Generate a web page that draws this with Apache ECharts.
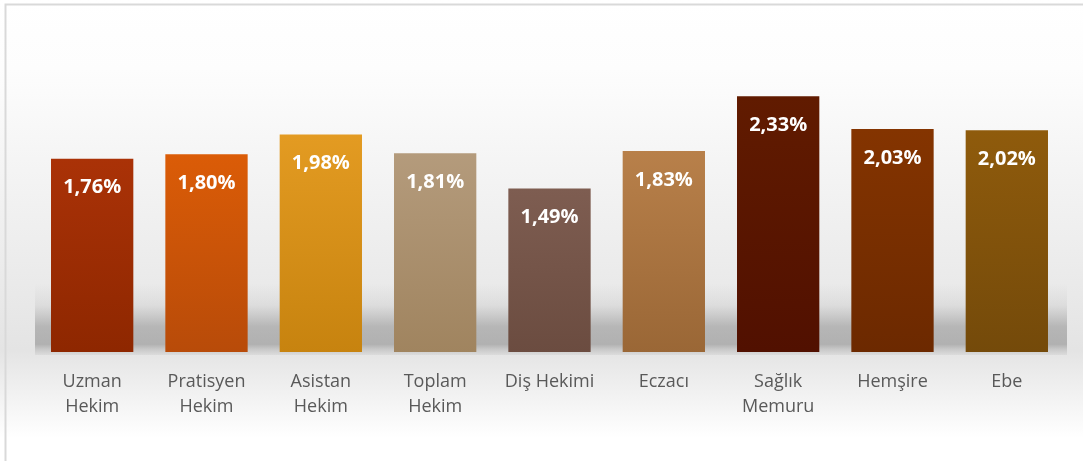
<!DOCTYPE html>
<html>
<head>
<meta charset="utf-8">
<script src="https://cdn.jsdelivr.net/npm/echarts@6/dist/echarts.min.js"></script>
<style>
  html, body { margin: 0; padding: 0; background: #fff; }
  #chart { width: 1083px; height: 461px; }
</style>
</head>
<body>
<div id="chart"></div>
<script>
var categories = ['Uzman\nHekim', 'Pratisyen\nHekim', 'Asistan\nHekim', 'Toplam\nHekim', 'Diş Hekimi', 'Eczacı', 'Sağlık\nMemuru', 'Hemşire', 'Ebe'];
var values = [1.76, 1.80, 1.98, 1.81, 1.49, 1.83, 2.33, 2.03, 2.02];
var valueLabels = ['1,76%', '1,80%', '1,98%', '1,81%', '1,49%', '1,83%', '2,33%', '2,03%', '2,02%'];
var topColors = ['#aa3207', '#db5c07', '#e39b22', '#b49b7c', '#7e5d51', '#b8804a', '#611b00', '#843400', '#8f5b0c'];
var bottomColors = ['#8e2700', '#b84b09', '#c7830f', '#a0845f', '#6b4c40', '#9a6736', '#511000', '#6c2900', '#744a0a'];

var myChart = echarts.init(document.getElementById('chart'));

function grad(c1, c2) {
  return new echarts.graphic.LinearGradient(0, 0, 0, 1, [
    { offset: 0, color: c1 },
    { offset: 1, color: c2 }
  ]);
}

var option = {
  animation: false,
  backgroundColor: new echarts.graphic.LinearGradient(0, 0, 0, 1, [
    { offset: 0, color: '#ffffff' },
    { offset: 0.15, color: '#fdfdfd' },
    { offset: 0.76, color: '#e4e4e4' },
    { offset: 0.95, color: '#ffffff' },
    { offset: 1, color: '#ffffff' }
  ]),
  graphic: [
    {
      // soft floor shadow behind the bars
      type: 'rect',
      z: -1,
      shape: { x: 35, y: 284, width: 1032, height: 71 },
      style: {
        fill: new echarts.graphic.LinearGradient(0, 0, 0, 1, [
          { offset: 0, color: 'rgba(160,160,160,0)' },
          { offset: 0.3, color: 'rgba(155,155,155,0.15)' },
          { offset: 0.6, color: 'rgba(150,150,150,0.6)' },
          { offset: 0.85, color: 'rgba(155,155,155,0.7)' },
          { offset: 1, color: 'rgba(200,200,200,0.35)' }
        ])
      }
    },
    {
      type: 'rect',
      shape: { x: 5.5, y: 4.5, width: 1100, height: 500 },
      style: { fill: 'none', stroke: '#d9d9d9', lineWidth: 2 }
    }
  ],
  grid: {
    left: 35,
    right: 19,
    top: 22.6,
    bottom: 109
  },
  xAxis: {
    type: 'category',
    data: categories,
    axisLine: { show: false },
    axisTick: { show: false },
    axisLabel: {
      color: '#595959',
      fontFamily: 'Open Sans',
      fontSize: 18,
      lineHeight: 25,
      margin: 17,
      interval: 0
    }
  },
  yAxis: {
    type: 'value',
    min: 0,
    max: 3,
    show: false,
    splitLine: { show: false }
  },
  series: [{
    type: 'bar',
    barCategoryGap: '28%',
    data: values.map(function (v, i) {
      return {
        value: v,
        itemStyle: { color: grad(topColors[i], bottomColors[i]) }
      };
    }),
    label: {
      show: true,
      position: 'insideTop',
      distance: 19,
      color: '#ffffff',
      fontFamily: 'Open Sans',
      fontWeight: 'bold',
      fontSize: 20,
      formatter: function (p) { return valueLabels[p.dataIndex]; }
    }
  }]
};
myChart.setOption(option, true);
</script>
</body>
</html>
